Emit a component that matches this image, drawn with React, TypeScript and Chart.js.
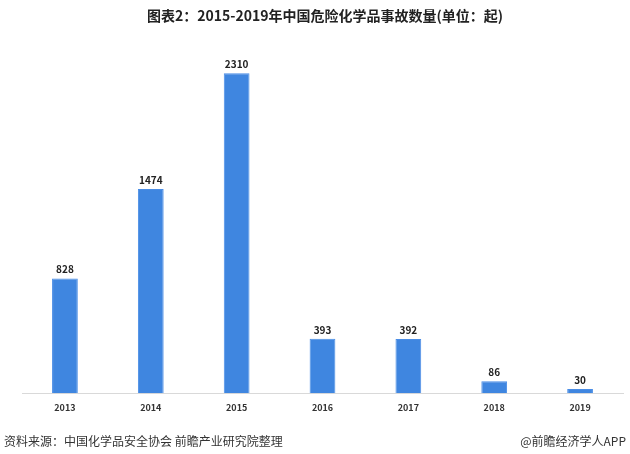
import React, { useEffect, useRef } from "react";
import { Chart, registerables } from "chart.js";

Chart.register(...registerables);

const categories = ["2013", "2014", "2015", "2016", "2017", "2018", "2019"];
const values = [828, 1474, 2310, 393, 392, 86, 30];
const titleText = "图表2：2015-2019年中国危险化学品事故数量(单位：起)";
const sourceText = "资料来源：中国化学品安全协会 前瞻产业研究院整理";
const brandText = "@前瞻经济学人APP";

const FONT = '"Noto Sans CJK SC", "Noto Sans", sans-serif';

export default function App() {
  const ref = useRef<HTMLCanvasElement | null>(null);
  useEffect(() => {
    document.body.style.margin = "0";
    const canvas = ref.current;
    if (!canvas) return;
    const decor = {
      id: "decor",
      afterDraw(chart: any) {
        const ctx = chart.ctx;
        ctx.save();
        ctx.fillStyle = "#222";
        ctx.font = `bold 14px ${FONT}`;
        ctx.textAlign = "center";
        ctx.textBaseline = "middle";
        ctx.fillText(titleText, 325, 16);
        ctx.font = `12px ${FONT}`;
        ctx.fillStyle = "#333";
        ctx.textAlign = "left";
        ctx.fillText(sourceText, 4, 441);
        ctx.textAlign = "right";
        ctx.fillText(brandText, 626, 441);
        // data labels
        const meta = chart.getDatasetMeta(0);
        ctx.font = `bold 10px ${FONT}`;
        ctx.fillStyle = "#222";
        ctx.textAlign = "center";
        ctx.textBaseline = "bottom";
        meta.data.forEach((bar: any, i: number) => {
          ctx.fillText(String(values[i]), bar.x, bar.y - 4);
        });
        ctx.restore();
      },
    };
    const chart = new Chart(canvas, {
      type: "bar",
      data: {
        labels: categories,
        datasets: [
          {
            data: values,
            backgroundColor: "#3f86e0",
            borderColor: "#4a8de6",
            borderWidth: 1,
            categoryPercentage: 1,
            barPercentage: 0.3,
          },
        ],
      },
      options: {
        animation: false,
        responsive: false,
        maintainAspectRatio: false,
        layout: { padding: { top: 47, left: 22, right: 7, bottom: 32 } },
        plugins: { legend: { display: false }, tooltip: { enabled: false }, title: { display: false } },
        scales: {
          x: {
            grid: { display: false, drawTicks: false },
            border: { display: true, color: "#d9d9d9", width: 1 },
            ticks: { color: "#333", font: { family: FONT, size: 9, weight: "bold" }, padding: 9 },
          },
          y: { display: false, min: 0, max: 2500 },
        },
      },
      plugins: [decor],
    });
    return () => chart.destroy();
  }, []);
  return (
    <div style={{ width: 630, height: 454, background: "#fff" }}>
      <canvas ref={ref} width={630} height={454} style={{ display: "block" }} />
    </div>
  );
}
